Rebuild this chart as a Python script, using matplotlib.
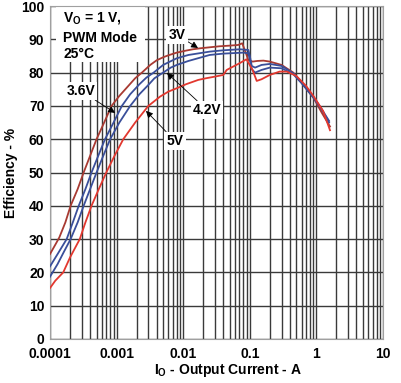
import matplotlib
matplotlib.use("Agg")
import matplotlib.pyplot as plt
from matplotlib.patches import Rectangle

plt.rcParams['font.family'] = ['Liberation Sans', 'DejaVu Sans']
plt.rcParams['font.weight'] = 'bold'
plt.rcParams['mathtext.fontset'] = 'custom'
plt.rcParams['mathtext.rm'] = 'Liberation Sans:bold'
plt.rcParams['mathtext.it'] = 'Liberation Sans:bold'
plt.rcParams['mathtext.bf'] = 'Liberation Sans:bold'

# efficiency curves (current in A, efficiency in %)
i_3v = [0.0001, 0.00012, 0.000138, 0.00017, 0.000204, 0.00026, 0.00032, 0.0004,
        0.0005, 0.00065, 0.00084, 0.0011, 0.0015, 0.0019, 0.0024, 0.0032,
        0.004, 0.005, 0.006, 0.008, 0.011, 0.014, 0.018, 0.025, 0.035, 0.05,
        0.067, 0.077, 0.085, 0.095, 0.11, 0.13, 0.16, 0.2, 0.3, 0.45, 0.6,
        0.9, 1.2, 1.6]
eff_3v = [25.5, 28.3, 30.5, 35, 40, 45, 50, 55,
          60, 65, 70, 73, 76, 78.3, 80, 82.3,
          83.7, 84.6, 85.2, 86, 86.6, 87, 87.3, 87.6, 87.9, 88.1,
          88.3, 88.8, 86.5, 83.8, 83.3, 83.5, 83.6, 83.3, 82.3, 80, 77,
          72.5, 68, 63.8]

i_36v = [0.0001, 0.00013, 0.000178, 0.00022, 0.00027, 0.00034, 0.00042, 0.00053,
         0.00067, 0.0009, 0.0012, 0.0016, 0.0022, 0.0028, 0.0036, 0.005,
         0.008, 0.012, 0.025, 0.04, 0.071, 0.095, 0.1, 0.107, 0.12, 0.15,
         0.2, 0.3, 0.45, 0.6, 0.9, 1.2, 1.55]
eff_36v = [21.8, 25.5, 30, 35, 40, 45, 50, 55,
           60, 65, 70, 73.5, 76.5, 78.5, 80, 82.3,
           84.3, 85.3, 86.3, 86.7, 87, 86.8, 85, 82, 81.5, 82.3,
           82.6, 82, 79.8, 77, 72.8, 69, 65.5]

i_42v = [0.0001, 0.00013, 0.00016, 0.000204, 0.00026, 0.00032, 0.0004, 0.0005,
         0.00063, 0.0008, 0.0011, 0.0016, 0.0022, 0.003, 0.0037, 0.005,
         0.0065, 0.008, 0.012, 0.025, 0.04, 0.08, 0.095, 0.1, 0.107, 0.12,
         0.15, 0.2, 0.3, 0.45, 0.6, 0.9, 1.2, 1.55]
eff_42v = [18.7, 22.5, 26, 30, 35, 40, 45, 50,
           55, 60, 65, 70, 73.5, 76.3, 78.3, 80,
           81.5, 82.3, 83.5, 85.3, 85.7, 86, 85.8, 84, 81, 80,
           80.8, 81.5, 81.3, 79.5, 76.8, 72.5, 69, 65]

i_5v = [0.0001, 0.00012, 0.000158, 0.0002, 0.00028, 0.00034, 0.00042, 0.00054,
        0.0007, 0.00093, 0.00126, 0.0019, 0.003, 0.0045, 0.006, 0.008,
        0.011, 0.0168, 0.022, 0.03, 0.04, 0.045, 0.07, 0.089, 0.11, 0.127,
        0.15, 0.2, 0.28, 0.36, 0.5, 0.7, 0.9, 1.26, 1.6]
eff_5v = [15.3, 17.5, 20, 24.5, 30, 35, 40, 45,
          50, 55, 60, 65, 70, 72.8, 74.3, 75.3,
          76.5, 77.8, 78.3, 78.8, 79.3, 80.8, 82.8, 84, 80.8, 77.5,
          78, 79.3, 80.3, 80.3, 79, 76, 73, 68.5, 62.7]

x_ticks = [0.0001, 0.001, 0.01, 0.1, 1, 10]
x_tick_labels = ['0.0001', '0.001', '0.01', '0.1', '1', '10']
y_ticks = list(range(0, 101, 10))

fig = plt.figure(figsize=(4.02, 3.83), dpi=100)
ax = fig.add_axes([50 / 402, 1 - 339 / 383, 333 / 402, 333 / 383])

ax.plot(i_3v, eff_3v, color='#a83a32', lw=1.3, zorder=3)
ax.plot(i_36v, eff_36v, color='#3a4f9a', lw=1.3, zorder=3)
ax.plot(i_42v, eff_42v, color='#3a4f9a', lw=1.3, zorder=3)
ax.plot(i_5v, eff_5v, color='#e2382f', lw=1.3, zorder=3)

ax.set_xscale('log')
ax.set_xlim(0.0001, 10)
ax.set_ylim(0, 100)
ax.set_xticks(x_ticks)
ax.set_xticklabels(x_tick_labels)
ax.set_yticks(y_ticks)
ax.tick_params(which='both', length=0, labelsize=10)
ax.tick_params(axis='x', pad=5.5)
ax.tick_params(axis='y', pad=4)
ax.grid(which='both', color='#3a3a3a', lw=1.0)
ax.set_axisbelow(True)
for sp in ax.spines.values():
    sp.set_color('#a0a0a0')

ax.set_xlabel('I$_\\mathrm{O}$ - Output Current - A', fontsize=10, fontweight='bold')
ax.set_ylabel('Efficiency - %', fontsize=10, fontweight='bold')
ax.xaxis.set_label_coords(0.535, -0.068)
ax.yaxis.set_label_coords(-0.095, 0.5)

# white box behind the conditions text
ax.add_patch(Rectangle((0.000123, 83.2), 0.00267 - 0.000123, 16.4,
                       facecolor='white', edgecolor='none', zorder=1))
ax.text(0.000157, 96.4, 'V$_\\mathrm{O}$ = 1 V,', fontsize=10, va='center', zorder=4)
ax.text(0.000157, 90.4, 'PWM Mode', fontsize=10, va='center', zorder=4)
ax.text(0.000157, 85.6, '25°C', fontsize=10, va='center', zorder=4)

box = dict(boxstyle='square,pad=0.15', fc='white', ec='none')
arrow = dict(arrowstyle='-|>', color='black', lw=0.6, mutation_scale=10,
             shrinkA=0, shrinkB=0)
ax.annotate('3V', xy=(0.0167, 87.4), xytext=(0.00807, 91.3), fontsize=10,
            ha='center', va='center', bbox=box, arrowprops=arrow, zorder=5)
ax.annotate('3.6V', xy=(0.00095, 67.9), xytext=(0.000292, 74.5), fontsize=10,
            ha='center', va='center', bbox=box, arrowprops=arrow, zorder=5)
ax.annotate('4.2V', xy=(0.0057, 79.9), xytext=(0.0228, 68.8), fontsize=10,
            ha='center', va='center', bbox=box, arrowprops=arrow, zorder=5)
ax.annotate('5V', xy=(0.00276, 68.5), xytext=(0.00753, 59.5), fontsize=10,
            ha='center', va='center', bbox=box, arrowprops=arrow, zorder=5)

fig.savefig('out.png', dpi=100)
